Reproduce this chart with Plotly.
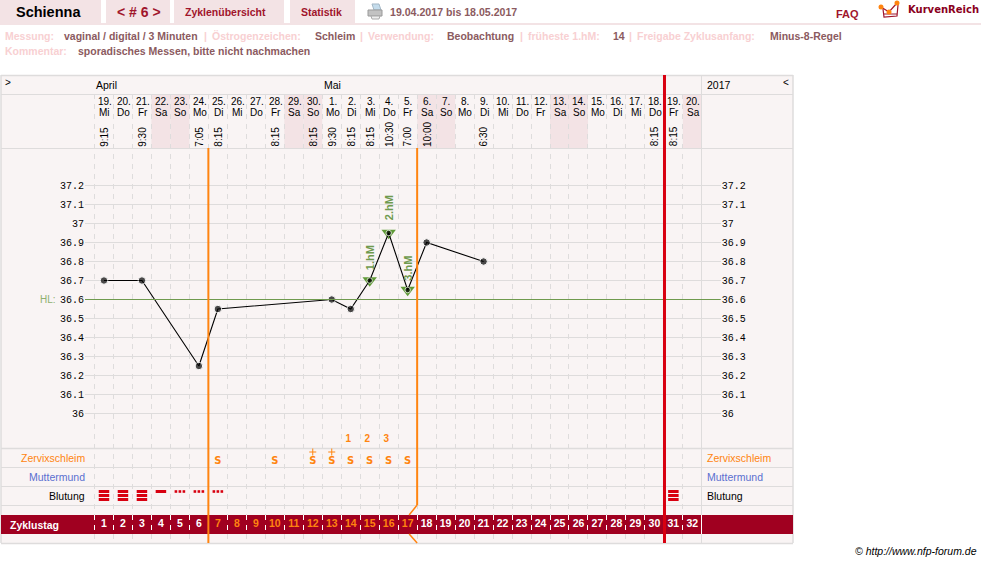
import math

import plotly.graph_objects as go

W, H = 981, 563

# Cycle days, calendar labels and measurement times
cycle_days = list(range(1, 33))
dates = ["19.", "20.", "21.", "22.", "23.", "24.", "25.", "26.", "27.", "28.", "29.", "30.",
         "1.", "2.", "3.", "4.", "5.", "6.", "7.", "8.", "9.", "10.", "11.", "12.", "13.",
         "14.", "15.", "16.", "17.", "18.", "19.", "20."]
weekdays = ["Mi", "Do", "Fr", "Sa", "So", "Mo", "Di", "Mi", "Do", "Fr", "Sa", "So",
            "Mo", "Di", "Mi", "Do", "Fr", "Sa", "So", "Mo", "Di", "Mi", "Do", "Fr", "Sa",
            "So", "Mo", "Di", "Mi", "Do", "Fr", "Sa"]
time_days = [1, 3, 6, 7, 10, 12, 13, 14, 15, 16, 17, 18, 21, 30, 31]
time_labels = ["9:15", "9:30", "7:05", "8:15", "8:15", "8:15", "9:30", "8:15", "8:15",
               "10:30", "7:00", "10:00", "6:30", "8:15", "8:15"]

# Temperature curve
temp_days = [1, 3, 6, 7, 13, 14, 15, 16, 17, 18, 21]
temps = [36.7, 36.7, 36.25, 36.55, 36.6, 36.55, 36.7, 36.95, 36.65, 36.9, 36.8]
high_days = [15, 16, 17]
high_temps = [36.7, 36.95, 36.65]
high_labels = ["1.hM", "2.hM", "3.hM"]
cover_line = 36.6

# Symptom rows
mucus_days = [7, 10, 12, 13, 14, 15, 16, 17]
plus_days = [12, 13]
peak_count_days = [14, 15, 16]
peak_counts = ["1", "2", "3"]
heavy_bleed_days = [1, 2, 3, 31]
medium_bleed_days = [4]
light_bleed_days = [5, 6, 7]
highlight_days = list(range(7, 18))

tick_temps = [36.0, 36.1, 36.2, 36.3, 36.4, 36.5, 36.6, 36.7, 36.8, 36.9, 37.0, 37.1, 37.2]
tick_text = ["36", "36.1", "36.2", "36.3", "36.4", "36.5", "36.6", "36.7", "36.8", "36.9",
             "37", "37.1", "37.2"]

# Pixel geometry of the sheet
DAY_W = 18.98
X0, X1 = 85.0, 85.0 + 33.5 * DAY_W
Y_TOP, Y_MID, Y_BOT = 148, 448, 543
PX_PER_DEGREE = 190.0


def temp_at(py):
    return 36.0 + (413.5 - py) / PX_PER_DEGREE


def fx(px):
    return px / W


def fy(py):
    return 1 - py / H


def day_px(d):
    return X0 + d * DAY_W


def crisp(px):
    return math.floor(px) + 0.5


PANEL = "#f9f4f4"
TAB = "#f3e3e5"
GRID = "#dedcdc"
ORANGE = "#ff8410"
RED = "#d80010"
DARKRED = "#a00020"
GREEN = "#6f9a4e"
MAUVE = "#8b5a60"
PALE = "#f8d0d2"
FONT = "Liberation Sans"

shapes = []
annotations = []


def rect(x0, y0, x1, y1, color):
    shapes.append(dict(type="rect", xref="paper", yref="paper", x0=fx(x0), x1=fx(x1),
                       y0=fy(y0), y1=fy(y1), fillcolor=color, line_width=0, layer="below"))


def seg(x0, y0, x1, y1, color=GRID, width=1, dash=None, layer="below"):
    line = dict(color=color, width=width)
    if dash:
        line["dash"] = dash
    shapes.append(dict(type="line", xref="paper", yref="paper", x0=fx(x0), x1=fx(x1),
                       y0=fy(y0), y1=fy(y1), line=line, layer=layer))


def poly(points, fill=None, stroke=None, width=1, close=True):
    d = "M" + " L".join(f"{fx(x):.5f},{fy(y):.5f}" for x, y in points) + (" Z" if close else "")
    shapes.append(dict(type="path", xref="paper", yref="paper", path=d,
                       fillcolor=fill if fill else "rgba(0,0,0,0)",
                       line=dict(color=stroke if stroke else "rgba(0,0,0,0)", width=width)))


def dot(cx, cy, r, color):
    shapes.append(dict(type="circle", xref="paper", yref="paper", x0=fx(cx - r), x1=fx(cx + r),
                       y0=fy(cy + r), y1=fy(cy - r), fillcolor=color, line_width=0))


def label(px, py, text, size=10, color="#000000", bold=False, anchor="left", angle=0,
          yanchor="middle", family=FONT):
    annotations.append(dict(xref="paper", yref="paper", x=fx(px), y=fy(py),
                            text=f"<b>{text}</b>" if bold else text, showarrow=False,
                            xanchor=anchor, yanchor=yanchor, textangle=angle,
                            font=dict(family=family, size=size, color=color),
                            borderpad=0, borderwidth=0))


# Navigation tabs
for x0, x1 in [(0, 101), (106, 170), (174, 284), (290, 355)]:
    rect(x0, 0, x1, 23, TAB)
rect(0, 23, W, 25, TAB)
label(48, 12, "Schienna", 14.5, "#000000", True, "center")
label(139, 12, "&lt; # 6 &gt;", 14, "#a0152c", True, "center")
label(225, 12, "Zyklenübersicht", 10.5, "#a0152c", True, "center")
label(321, 12, "Statistik", 10.5, "#a0152c", True, "center")
label(390, 12, "19.04.2017 bis 18.05.2017", 10.6, MAUVE, True)
label(847, 14, "FAQ", 11, "#a0152c", True, "center")
label(908, 10, "KurvenReich", 10, "#8a0020", True, family="DejaVu Sans")

# Printer icon
poly([(372, 4), (379, 4), (381, 10), (374, 10)], "#c4dcec", "#a4b8c6")
poly([(368, 10), (382, 10), (382, 16), (368, 16)], "#c2c2c2", "#9a9a9a")
poly([(371, 16), (380, 16), (379, 19), (372, 19)], "#eeeeee", "#aaaaaa")

# Logo
poly([(883, 9), (884, 17), (897, 16), (898, 5)], None, "#a0152c", 1.2, False)
poly([(881, 7), (889, 12), (897, 3)], None, "#a0152c", 1.2, False)
poly([(884, 14), (897, 14)], None, "#a0152c", 1, False)
dot(881, 7, 2.5, ORANGE)
dot(889, 12, 2.5, ORANGE)
dot(897, 3, 2.5, ORANGE)

# Cycle settings
for px, text, color in [
    (5, "Messung:", PALE), (64, "vaginal / digital / 3 Minuten", MAUVE), (204, "|", PALE),
    (212, "Östrogenzeichen:", PALE), (315, "Schleim", MAUVE), (360, "|", PALE),
    (368, "Verwendung:", PALE), (447, "Beobachtung", MAUVE), (520, "|", PALE),
    (528, "früheste 1.hM:", PALE), (613, "14", MAUVE), (629, "|", PALE),
    (637, "Freigabe Zyklusanfang:", PALE), (770, "Minus-8-Regel", MAUVE),
]:
    label(px, 36, text, 10.5, color, True)
label(5, 51, "Kommentar:", 10.5, PALE, True)
label(78, 51, "sporadisches Messen, bitte nicht nachmachen", 10.5, MAUVE, True)

# Sheet background
rect(1, 75, 793, 543, PANEL)
for d in cycle_days:
    if weekdays[d - 1] in ("Sa", "So"):
        rect(day_px(d - 0.5), 94, day_px(d + 0.5), Y_TOP, TAB)

# Dashed day columns
for d in range(0, 32):
    seg(crisp(day_px(d + 0.5)), 94, crisp(day_px(d + 0.5)), Y_BOT, GRID, 1, "5px,5px")

# Row separators and frame
for py in [75, 94, Y_TOP, Y_MID, 467, 486, 505, Y_BOT]:
    seg(1, py + 0.5, 793, py + 0.5, GRID, 1.5 if py in (75, Y_MID, Y_BOT) else 1)
seg(1, 75, 1, Y_BOT, GRID, 1.5)
seg(793, 75, 793, Y_BOT, GRID, 1.5)
seg(crisp(day_px(32.5)), 75, crisp(day_px(32.5)), Y_BOT, GRID, 1)

# Cycle-day strip
rect(1, 515, 793, 534, DARKRED)
for d in range(0, 32):
    seg(crisp(day_px(d + 0.5)), 515, crisp(day_px(d + 0.5)), 534, "#ffffff", 1, "5px,5px")
seg(crisp(day_px(32.5)), 515, crisp(day_px(32.5)), 534, "#ffffff", 1)
label(10, 524.5, "Zyklustag", 10.5, "#ffffff", True)

# Evaluation markers
seg(day_px(6.5), Y_TOP, day_px(6.5), Y_BOT, ORANGE, 2, layer="above")
seg(day_px(17.5), Y_TOP, day_px(17.5), 505, ORANGE, 2, layer="above")
seg(day_px(17.5), 505, day_px(17.5) - 8, 515, ORANGE, 1.5, layer="above")
seg(day_px(17.5) - 8, 534, day_px(17.5), Y_BOT, ORANGE, 1.5, layer="above")
seg(day_px(30.5) + 0.6, 75, day_px(30.5) + 0.6, Y_BOT, RED, 3, layer="above")

# Sheet header
label(5, 83, "&gt;", 10, "#000000")
label(96, 85, "April", 10.5)
label(324, 85, "Mai", 10.5)
label(707, 85, "2017", 10.5)
label(783, 83, "&lt;", 10, "#000000")

for d, date, wd in zip(cycle_days, dates, weekdays):
    px = day_px(d)
    label(px + 0.8, 102, date, 10, anchor="center")
    label(px + 0.8, 112, wd, 10, anchor="center")
for d, t in zip(time_days, time_labels):
    label(day_px(d) + 0.3, 146.5, t, 10, anchor="center", angle=-90, yanchor="bottom")

# Row captions on both sides
for py, text, color in [(458, "Zervixschleim", ORANGE), (477, "Muttermund", "#5b6fd0"),
                        (496, "Blutung", "#000000")]:
    label(85, py, text, 10.5, color, anchor="right")
    label(707, py, text, 10.5, color)

label(977, 551, "<i>© http://www.nfp-forum.de</i>", 10.5, "#000000", anchor="right")
label(40, 299, "HL:", 10, "#8fb070")

# Rows are placed on a pixel-like scale of their own
ROW_PEAK, ROW_PLUS, ROW_MUCUS, ROW_BLEED, ROW_STRIP = 439, 452, 461, 495.5, 524.5
ROWS_TOP = 430

fig = go.Figure()

# Cover line, on the right-hand temperature axis
fig.add_trace(go.Scatter(x=[0, 33.5], y=[cover_line, cover_line], yaxis="y2", mode="lines",
                         line=dict(color=GREEN, width=1), hoverinfo="skip", showlegend=False))

fig.add_trace(go.Scatter(x=high_days, y=high_temps, mode="markers",
                         marker=dict(symbol="triangle-down", size=12.5, color="#5f9a37"),
                         hoverinfo="skip", showlegend=False))
fig.add_trace(go.Scatter(x=temp_days, y=temps, mode="lines", line=dict(color="#000000", width=1.1),
                         hoverinfo="skip", showlegend=False))
fig.add_trace(go.Scatter(x=temp_days, y=temps, mode="markers",
                         marker=dict(size=[5.5 if d in high_days else 7.5 for d in temp_days],
                                     color="#000000", symbol="circle"),
                         hoverinfo="skip", showlegend=False))

for d, v, text, shift in zip(high_days, high_temps, high_labels, [23, 25.5, 22]):
    annotations.append(dict(x=d, y=v, xref="x", yref="y", text=f"<b>{text}</b>", showarrow=False,
                            textangle=-90, yshift=shift, xanchor="center", yanchor="middle",
                            font=dict(family=FONT, size=11, color=GREEN)))

# Cervical mucus and peak count
fig.add_trace(go.Scatter(x=mucus_days, y=[ROW_MUCUS] * len(mucus_days), yaxis="y3", mode="text",
                         text=["S"] * len(mucus_days), cliponaxis=False,
                         textfont=dict(family="DejaVu Sans", size=10, color=ORANGE, weight="bold"),
                         hoverinfo="skip", showlegend=False))
fig.add_trace(go.Scatter(x=plus_days, y=[ROW_PLUS] * len(plus_days), yaxis="y3", mode="markers",
                         cliponaxis=False,
                         marker=dict(symbol="cross-thin", size=5, line=dict(color=ORANGE, width=1)),
                         hoverinfo="skip", showlegend=False))
fig.add_trace(go.Scatter(x=[d - 0.13 for d in peak_count_days], y=[ROW_PEAK] * 3, yaxis="y3",
                         mode="text", text=peak_counts, cliponaxis=False,
                         textfont=dict(family=FONT, size=10, color=ORANGE, weight="bold"),
                         hoverinfo="skip", showlegend=False))

# Bleeding: three bars for heavy, one bar for medium, three dots for light
for offset in (-4, 0, 4):
    fig.add_trace(go.Scatter(x=heavy_bleed_days, y=[ROW_BLEED + offset] * len(heavy_bleed_days),
                             yaxis="y3", mode="markers", cliponaxis=False,
                             marker=dict(symbol="line-ew", size=7.5, line=dict(color=RED, width=3)),
                             hoverinfo="skip", showlegend=False))
fig.add_trace(go.Scatter(x=medium_bleed_days, y=[491.5], yaxis="y3", mode="markers", cliponaxis=False,
                         marker=dict(symbol="line-ew", size=7.5, line=dict(color=RED, width=3)),
                         hoverinfo="skip", showlegend=False))
for offset in (-0.21, 0, 0.21):
    fig.add_trace(go.Scatter(x=[d + offset for d in light_bleed_days], y=[491.5] * 3, yaxis="y3",
                             mode="markers", cliponaxis=False,
                             marker=dict(symbol="square", size=2.6, color=RED),
                             hoverinfo="skip", showlegend=False))

# Day numbers in the strip
fig.add_trace(go.Scatter(x=cycle_days, y=[ROW_STRIP] * len(cycle_days), yaxis="y3", mode="text",
                         text=[str(d) for d in cycle_days], cliponaxis=False,
                         textfont=dict(family=FONT, size=10.5, weight="bold",
                                       color=[ORANGE if d in highlight_days else "#ffffff"
                                              for d in cycle_days]),
                         hoverinfo="skip", showlegend=False))

temp_range = [temp_at(Y_MID), temp_at(Y_TOP)]
tick_axis = dict(range=temp_range, tickmode="array", tickvals=tick_temps, ticktext=tick_text,
                 showline=False, zeroline=False, ticks="", fixedrange=True,
                 tickfont=dict(family="Liberation Mono", size=10, color="#000000"))

fig.update_layout(
    width=W, height=H, margin=dict(l=0, r=0, t=0, b=0, pad=0, autoexpand=False),
    paper_bgcolor="#ffffff", plot_bgcolor="rgba(0,0,0,0)", showlegend=False,
    hovermode=False, shapes=shapes, annotations=annotations,
    xaxis=dict(domain=[fx(X0), fx(X1)], range=[0, 33.5], visible=False, fixedrange=True),
    yaxis=dict(domain=[fy(Y_MID), fy(Y_TOP)], side="left", showgrid=True, gridcolor=GRID, gridwidth=1,
               **tick_axis),
    yaxis2=dict(overlaying="y", side="right", showgrid=False, **tick_axis),
    yaxis3=dict(domain=[fy(Y_BOT), fy(ROWS_TOP)], range=[Y_BOT, ROWS_TOP], visible=False,
                fixedrange=True),
)

fig.write_html("out.html", config=dict(displayModeBar=False))
